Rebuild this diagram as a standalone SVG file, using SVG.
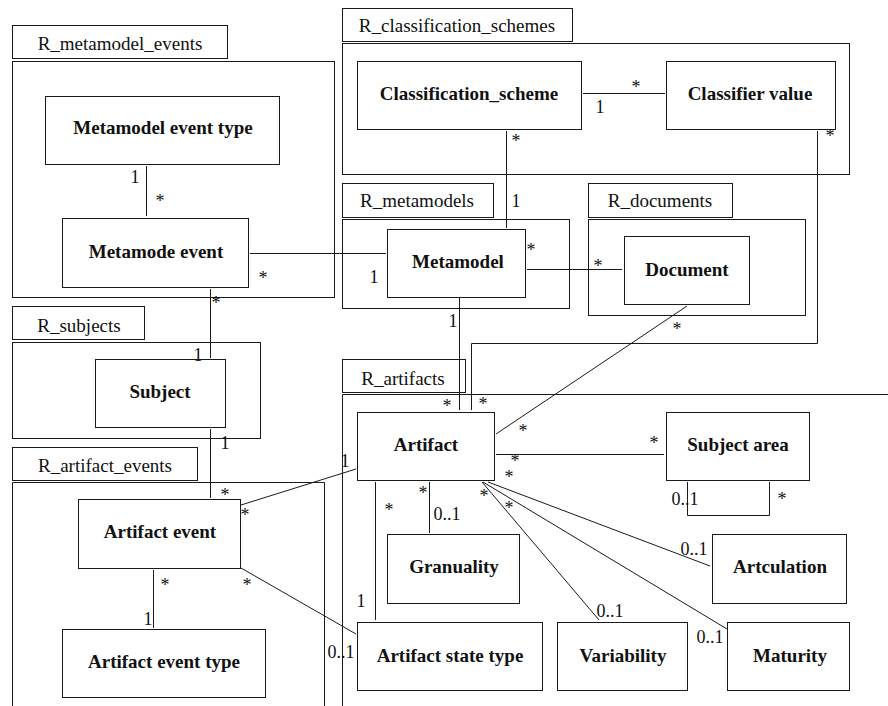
<svg xmlns="http://www.w3.org/2000/svg" width="888" height="706" viewBox="0 0 888 706" font-family="Liberation Serif, DejaVu Serif, serif">
<style>
.s{fill:none;stroke:#1a1a1a;stroke-width:1}
text{fill:#111}
.tab{font-size:19px;text-anchor:middle}
.nm{font-size:19px;font-weight:bold;text-anchor:middle}
.m{font-size:18px;text-anchor:middle}
</style>
<rect x="0" y="0" width="888" height="706" style="fill:#fff;stroke:none"/>

<g id="pkg_metamodel_events" class="s">
<rect x="12.5" y="25.5" width="215" height="33"/>
<rect x="12.5" y="61.5" width="322" height="236"/>
</g>
<text class="tab" x="120" y="50">R_metamodel_events</text>
<g id="pkg_classification_schemes" class="s">
<rect x="342.5" y="8.5" width="230" height="33"/>
<rect x="342.5" y="43.5" width="507" height="131"/>
</g>
<text class="tab" x="457" y="32">R_classification_schemes</text>
<g id="pkg_metamodels" class="s">
<rect x="342.5" y="183.5" width="151" height="34"/>
<rect x="342.5" y="219.5" width="227" height="89"/>
</g>
<text class="tab" x="417" y="207">R_metamodels</text>
<g id="pkg_documents" class="s">
<rect x="588.5" y="183.5" width="144" height="34"/>
<rect x="588.5" y="219.5" width="217" height="96"/>
</g>
<text class="tab" x="660" y="207">R_documents</text>
<g id="pkg_subjects" class="s">
<rect x="12.5" y="306.5" width="132" height="33"/>
<rect x="12.5" y="342.5" width="248" height="96"/>
</g>
<text class="tab" x="79" y="332">R_subjects</text>
<g id="pkg_artifact_events" class="s">
<rect x="12.5" y="447.5" width="185" height="33"/>
<path d="M12.5,706 V482.5 H324.5 V706"/>
</g>
<text class="tab" x="105" y="472">R_artifact_events</text>
<g id="pkg_artifacts" class="s">
<rect x="342.5" y="359.5" width="123" height="33"/>
<path d="M342.5,706 V394.5 H888"/>
</g>
<text class="tab" x="403" y="385">R_artifacts</text>

<g id="connectors" class="s">
<line x1="146.5" y1="166" x2="146.5" y2="216"/>
<line x1="250" y1="253.5" x2="386" y2="253.5"/>
<line x1="210.5" y1="289" x2="210.5" y2="358"/>
<line x1="210.5" y1="429" x2="210.5" y2="498"/>
<line x1="153.5" y1="570" x2="153.5" y2="628"/>
<line x1="241" y1="505" x2="356" y2="469"/>
<line x1="241" y1="568" x2="356" y2="634"/>
<line x1="583" y1="93.5" x2="665" y2="93.5"/>
<line x1="506.5" y1="131" x2="506.5" y2="228"/>
<line x1="527" y1="269.5" x2="622" y2="269.5"/>
<line x1="459.5" y1="298" x2="459.5" y2="410"/>
<line x1="687" y1="306" x2="496" y2="434"/>
<path d="M817.5,131 V343.5 H471.5 V410"/>
<line x1="496" y1="454.5" x2="664" y2="454.5"/>
<path d="M687.5,482 V515.5 H769.5 V482"/>
<line x1="429.5" y1="482" x2="429.5" y2="533"/>
<line x1="375.5" y1="482" x2="375.5" y2="620"/>
<line x1="482" y1="482" x2="599" y2="620"/>
<line x1="483" y1="482" x2="727" y2="629"/>
<line x1="488" y1="482" x2="710" y2="566"/>
</g>

<g id="mult">
<text class="m" x="135" y="183">1</text>
<text class="m" x="160" y="207">*</text>
<text class="m" x="263" y="284">*</text>
<text class="m" x="216" y="309">*</text>
<text class="m" x="198" y="361">1</text>
<text class="m" x="225" y="449">1</text>
<text class="m" x="225" y="501">*</text>
<text class="m" x="245" y="521">*</text>
<text class="m" x="247" y="591">*</text>
<text class="m" x="165" y="591">*</text>
<text class="m" x="148" y="625">1</text>
<text class="m" x="636" y="93">*</text>
<text class="m" x="600" y="113">1</text>
<text class="m" x="516" y="147">*</text>
<text class="m" x="516" y="207">1</text>
<text class="m" x="830" y="142">*</text>
<text class="m" x="531" y="256">*</text>
<text class="m" x="374" y="283">1</text>
<text class="m" x="598" y="272">*</text>
<text class="m" x="453" y="327">1</text>
<text class="m" x="677" y="335">*</text>
<text class="m" x="447" y="412">*</text>
<text class="m" x="483" y="410">*</text>
<text class="m" x="523" y="437">*</text>
<text class="m" x="654" y="449">*</text>
<text class="m" x="515" y="467">*</text>
<text class="m" x="509" y="483">*</text>
<text class="m" x="345" y="467">1</text>
<text class="m" x="423" y="499">*</text>
<text class="m" x="389" y="516">*</text>
<text class="m" x="447" y="520">0..1</text>
<text class="m" x="484" y="502">*</text>
<text class="m" x="509" y="514">*</text>
<text class="m" x="685" y="505">0..1</text>
<text class="m" x="782" y="505">*</text>
<text class="m" x="694" y="555">0..1</text>
<text class="m" x="610" y="617">0..1</text>
<text class="m" x="710" y="643">0..1</text>
<text class="m" x="361" y="607">1</text>
<text class="m" x="341" y="658">0..1</text>
</g>

<g id="n_metamodel_event_type"><rect class="s" x="45.5" y="96.5" width="234" height="68"/><text class="nm" x="163" y="134">Metamodel event type</text></g>
<g id="n_metamode_event"><rect class="s" x="62.5" y="218.5" width="186" height="69"/><text class="nm" x="156" y="258">Metamode event</text></g>
<g id="n_classification_scheme"><rect class="s" x="357.5" y="61.5" width="224" height="68"/><text class="nm" x="469" y="100">Classification_scheme</text></g>
<g id="n_classifier_value"><rect class="s" x="666.5" y="61.5" width="169" height="68"/><text class="nm" x="750" y="100">Classifier value</text></g>
<g id="n_metamodel"><rect class="s" x="387.5" y="229.5" width="138" height="68"/><text class="nm" x="458" y="268">Metamodel</text></g>
<g id="n_document"><rect class="s" x="624.5" y="236.5" width="125" height="68"/><text class="nm" x="687" y="276">Document</text></g>
<g id="n_subject"><rect class="s" x="95.5" y="359.5" width="130" height="68"/><text class="nm" x="160" y="398">Subject</text></g>
<g id="n_artifact_event"><rect class="s" x="78.5" y="499.5" width="162" height="69"/><text class="nm" x="160" y="538">Artifact event</text></g>
<g id="n_artifact_event_type"><rect class="s" x="62.5" y="629.5" width="203" height="68"/><text class="nm" x="164" y="668">Artifact event type</text></g>
<g id="n_artifact"><rect class="s" x="357.5" y="412.5" width="137" height="68"/><text class="nm" x="426" y="451">Artifact</text></g>
<g id="n_subject_area"><rect class="s" x="666.5" y="412.5" width="143" height="68"/><text class="nm" x="738" y="451">Subject area</text></g>
<g id="n_granuality"><rect class="s" x="387.5" y="534.5" width="132" height="69"/><text class="nm" x="454" y="573">Granuality</text></g>
<g id="n_artculation"><rect class="s" x="712.5" y="534.5" width="134" height="69"/><text class="nm" x="780" y="573">Artculation</text></g>
<g id="n_artifact_state_type"><rect class="s" x="357.5" y="622.5" width="185" height="68"/><text class="nm" x="450" y="662">Artifact state type</text></g>
<g id="n_variability"><rect class="s" x="557.5" y="622.5" width="130" height="68"/><text class="nm" x="623" y="662">Variability</text></g>
<g id="n_maturity"><rect class="s" x="727.5" y="622.5" width="122" height="68"/><text class="nm" x="790" y="662">Maturity</text></g>
</svg>
